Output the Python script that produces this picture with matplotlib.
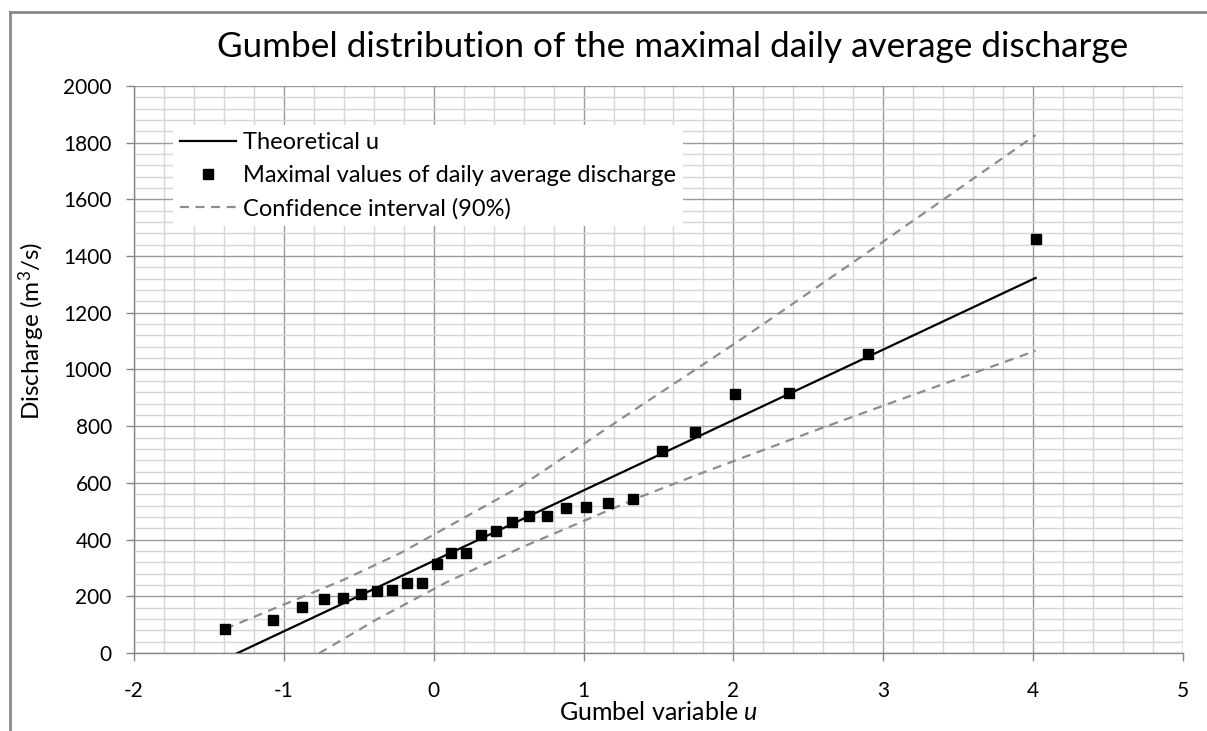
import matplotlib
matplotlib.use("Agg")
import matplotlib.pyplot as plt
from matplotlib.lines import Line2D
from matplotlib.ticker import MultipleLocator

# ---- data ----
u_obs = [-1.3925, -1.0739, -0.8821, -0.7321, -0.6033, -0.4870, -0.3787, -0.2756,
         -0.1757, -0.0778, 0.0194, 0.1168, 0.2151, 0.3154, 0.4185, 0.5253,
         0.6371, 0.7550, 0.8808, 1.0167, 1.1655, 1.3312, 1.5201, 1.7418,
         2.0134, 2.3696, 2.8993, 4.0164]
q_obs = [85, 117, 164, 189, 193, 208, 219, 222,
         248, 248, 313, 353, 353, 416, 431, 461,
         483, 483, 511, 516, 529, 544, 714, 778,
         912, 917, 1053, 1460]

theo_u = [-1.3925, 4.0164]
theo_q = [-21, 1323]

upper_u = [-1.3925, -0.598, -0.22, 0.58, 1.38, 1.713, 2.047, 3.002, 4.0164]
upper_q = [85, 259, 353, 588, 872, 988, 1105, 1452, 1827]

lower_u = [-1.3925, -0.742, -0.376, 0.091, 0.58, 1.38, 1.78, 2.602, 3.113, 4.0164]
lower_q = [-195, 6, 120, 251, 371, 551, 633, 796, 894, 1066]

title = "Gumbel distribution of the maximal daily average discharge"
labels = ["Theoretical u", "Maximal values of daily average discharge",
          "Confidence interval (90%)"]

# ---- style ----
plt.rcParams['font.family'] = ['Lato', 'DejaVu Sans']
plt.rcParams['mathtext.fontset'] = 'custom'
plt.rcParams['mathtext.rm'] = 'Lato'
plt.rcParams['mathtext.it'] = 'Lato:italic'
plt.rcParams['axes.unicode_minus'] = False

W, H = 1207, 731
fig = plt.figure(figsize=(W / 100, H / 100), dpi=100)
L, R, T, B = 134, 1183, 86, 653
ax = fig.add_axes([L / W, 1 - B / H, (R - L) / W, (B - T) / H])

ax.set_xlim(-2, 5)
ax.set_ylim(0, 2000)
ax.xaxis.set_major_locator(MultipleLocator(1))
ax.xaxis.set_minor_locator(MultipleLocator(0.2))
ax.yaxis.set_major_locator(MultipleLocator(200))
ax.yaxis.set_minor_locator(MultipleLocator(40))
ax.grid(which='minor', color='#d6d6d6', linewidth=1.0, zorder=0)
ax.grid(which='major', color='#9a9a9a', linewidth=1.0, zorder=0)
ax.set_axisbelow(True)

for s in ['top', 'right']:
    ax.spines[s].set_visible(False)
for s in ['left', 'bottom']:
    ax.spines[s].set_color('#868686')
    ax.spines[s].set_linewidth(1.0)

ax.tick_params(which='major', direction='out', length=6, width=1.0,
               color='#868686', labelsize=15, labelcolor='black')
ax.tick_params(axis='x', which='major', pad=14)
ax.tick_params(axis='y', which='major', pad=10)
ax.tick_params(which='minor', length=0)

ax.plot(theo_u, theo_q, color='black', linewidth=1.6, label=labels[0], zorder=3)
ax.plot(u_obs, q_obs, linestyle='none', marker='s', markersize=7.5,
        color='black', label=labels[1], zorder=4)
ax.plot(upper_u, upper_q, color='#8c8c8c', linewidth=1.6, dashes=(4, 3),
        label=labels[2], zorder=3)
ax.plot(lower_u, lower_q, color='#8c8c8c', linewidth=1.6, dashes=(4, 3), zorder=3)

leg = ax.legend(loc='upper left', bbox_to_anchor=(0.026, 0.952), fontsize=17,
                frameon=True, fancybox=False, framealpha=1, facecolor='white',
                edgecolor='none', handlelength=2.35, handletextpad=0.3,
                labelspacing=0.5, borderpad=0.3, numpoints=1)

ax.set_xlabel("Gumbel variable $\\mathit{u}$", fontsize=18, labelpad=0)
ax.set_ylabel("Discharge (m$^\\mathrm{3}$/s)", fontsize=17.5)
ax.yaxis.set_label_coords(-0.083, 0.568)

fig.text(673 / W, 1 - 47 / H, title, fontsize=25.3, ha='center', va='center')

# outer chart border (left and top edges visible)
fig.add_artist(Line2D([10 / W, 10 / W], [0, 1 - 12 / H], transform=fig.transFigure,
                      color='#8a8a8a', linewidth=2))
fig.add_artist(Line2D([10 / W, 1], [1 - 12 / H, 1 - 12 / H], transform=fig.transFigure,
                      color='#8a8a8a', linewidth=2))

fig.savefig("out.png", dpi=100)
